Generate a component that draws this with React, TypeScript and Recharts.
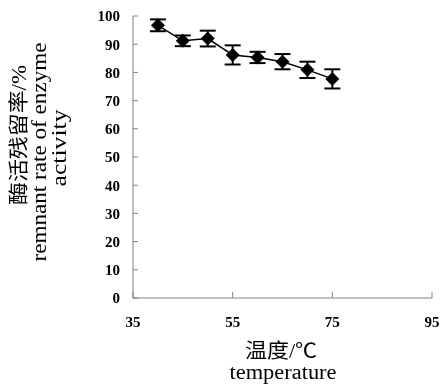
import React from 'react';
import { ComposedChart, Line, XAxis, YAxis, ErrorBar } from 'recharts';

const temperatures = [40, 45, 50, 55, 60, 65, 70, 75];
const activity = [96.7, 91.2, 92.0, 86.2, 85.3, 83.8, 80.9, 77.7];
const errors = [2.1, 1.9, 2.8, 3.4, 2.0, 2.7, 2.9, 3.4];
const xTicks = [35, 55, 75, 95];
const yTicks = [0, 10, 20, 30, 40, 50, 60, 70, 80, 90, 100];

const data = temperatures.map((t, i) => ({ t, value: activity[i], err: errors[i] }));

const AXIS = '#808080';
const SERIF = '"Liberation Serif", "Times New Roman", serif';
const CJK = '"Liberation Serif", "Noto Sans CJK SC", serif';

const Diamond = (props: any) => {
    const { cx, cy } = props;
    if (cx == null || cy == null) return null;
    const r = 7;
    return (
        <polygon
            points={`${cx},${cy - r} ${cx + r},${cy} ${cx},${cy + r} ${cx - r},${cy}`}
            fill="#000"
        />
    );
};

// vertical axis title, baseline at x, centred on y
const VTitle = ({ x, y, len, font, children }: any) => (
    <g transform={`translate(${x},${y}) rotate(-90)`}>
        <text
            x={0}
            y={0}
            textAnchor="middle"
            fontFamily={font}
            fontSize={20}
            fill="#000"
            textLength={len}
            lengthAdjust="spacingAndGlyphs"
        >
            {children}
        </text>
    </g>
);

export default function App() {
    return (
        <div style={{ position: 'fixed', left: 0, top: 0, width: 441, height: 387 }}>
            <ComposedChart
                width={441}
                height={387}
                data={data}
                margin={{ top: 16, right: 9, left: 0, bottom: 0 }}
            >
                <XAxis
                    dataKey="t"
                    type="number"
                    domain={[35, 95]}
                    ticks={xTicks}
                    height={89}
                    stroke={AXIS}
                    tickSize={-6}
                    tickMargin={24}
                    tick={{ fill: '#000', fontFamily: SERIF, fontWeight: 'bold', fontSize: 15 }}
                />
                <YAxis
                    type="number"
                    domain={[0, 100]}
                    ticks={yTicks}
                    width={133}
                    stroke={AXIS}
                    tickSize={-5}
                    tickMargin={18}
                    interval={0}
                    tick={{ fill: '#000', fontFamily: SERIF, fontWeight: 'bold', fontSize: 15 }}
                />
                <Line
                    dataKey="value"
                    stroke="#000"
                    strokeWidth={1.5}
                    dot={<Diamond />}
                    activeDot={false}
                    isAnimationActive={false}
                >
                    <ErrorBar dataKey="err" width={8} stroke="#000" strokeWidth={2} direction="y" />
                </Line>
            </ComposedChart>
            <svg
                width={441}
                height={387}
                style={{ position: 'absolute', left: 0, top: 0, pointerEvents: 'none' }}
            >
                <text
                    x={281}
                    y={358}
                    textAnchor="middle"
                    fontFamily={CJK}
                    fontSize={20}
                    fill="#000"
                    textLength={72}
                    lengthAdjust="spacingAndGlyphs"
                >
                    温度/℃
                </text>
                <text
                    x={283}
                    y={379}
                    textAnchor="middle"
                    fontFamily={SERIF}
                    fontSize={20}
                    fill="#000"
                    textLength={107}
                    lengthAdjust="spacingAndGlyphs"
                >
                    temperature
                </text>
                <VTitle x={26} y={135} len={140} font={CJK}>酶活残留率/%</VTitle>
                <VTitle x={46} y={152} len={219} font={SERIF}>remnant rate of enzyme</VTitle>
                <VTitle x={66} y={148} len={77} font={SERIF}>activity</VTitle>
            </svg>
        </div>
    );
}
